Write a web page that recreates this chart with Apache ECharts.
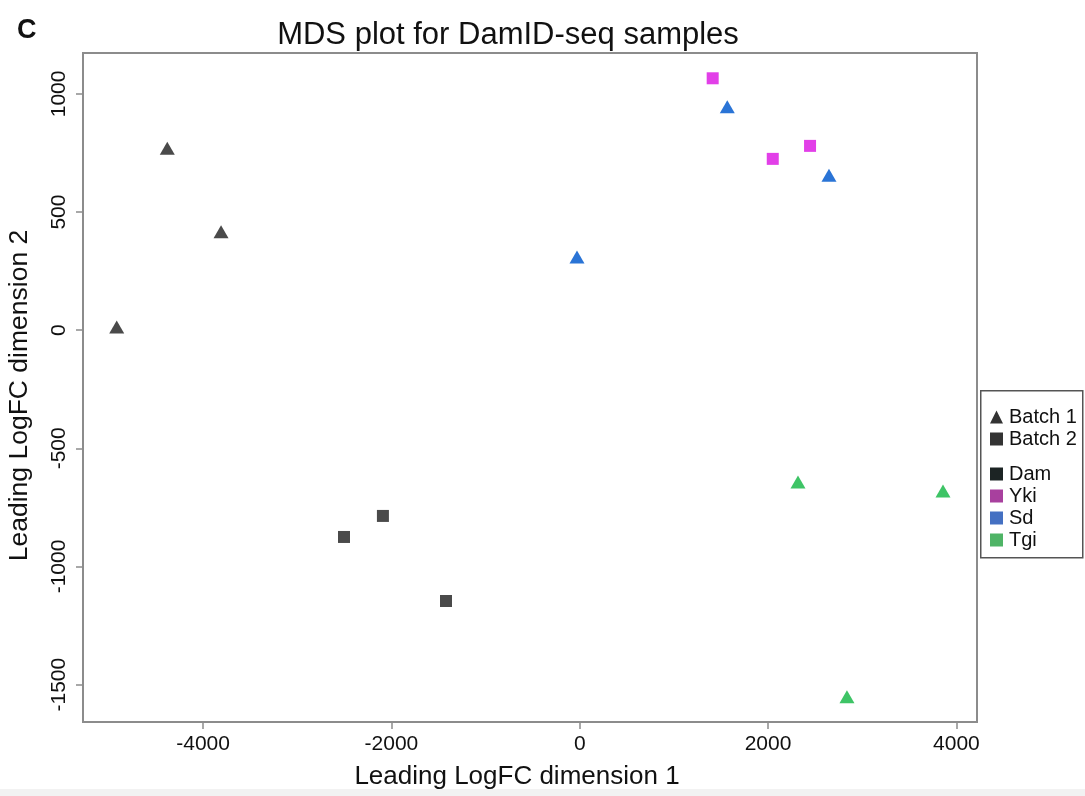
<!DOCTYPE html>
<html>
<head>
<meta charset="utf-8">
<script src="https://cdn.jsdelivr.net/npm/echarts@6/dist/echarts.min.js"></script>
<style>
html,body{margin:0;padding:0;background:#fff;}
#main{width:1085px;height:796px;}
</style>
</head>
<body>
<div id="main"></div>
<script>
// points: [dim1, dim2, batch]
var damPts = [[-4380,770,1],[-3809,417,1],[-4917,13,1],[-2503,-875,2],[-2090,-786,2],[-1420,-1146,2]];
var ykiPts = [[1412,1066,2],[2050,725,2],[2446,780,2]];
var sdPts = [[1567,946,1],[2647,656,1],[-29,310,1]];
var tgiPts = [[2318,-642,1],[3858,-680,1],[2838,-1551,1]];
var xTicks = [-4000,-2000,0,2000,4000];
var yTicks = [-1500,-1000,-500,0,500,1000];
var batchNames = ['Batch 1','Batch 2'];
var groupNames = ['Dam','Yki','Sd','Tgi'];
var pointColors = ['#4a4a4a','#e23fe8','#2a74d6','#3ec466'];
var legendColors = ['#1c2424','#a8409e','#4470c2','#4fb466'];

var font = 'Liberation Sans, Arial, sans-serif';
var myChart = echarts.init(document.getElementById('main'));

function mk(name, pts, color){
	return {
		name: name,
		type: 'scatter',
		data: pts,
		symbol: function(v){ return v[2]==1 ? 'triangle' : 'rect'; },
		symbolSize: function(v){ return v[2]==1 ? [15,13] : 12; },
		itemStyle: { color: color, opacity: 1 },
		silent: true
	};
}
function plain(v){ return String(v); }

var option = {
	backgroundColor: '#fff',
	animation: false,
	title: [{
		text: 'MDS plot for DamID-seq samples',
		left: 503, top: 15, textAlign: 'center',
		textStyle: { fontFamily: font, fontSize: 31, fontWeight: 'normal', color: '#111' }
	},{
		text: 'C', left: 12, top: 12,
		textStyle: { fontFamily: font, fontSize: 27, fontWeight: 'bold', color: '#111' }
	}],
	grid: {
		left: 83, top: 53, right: 108, bottom: 74,
		outerBoundsMode: 'none',
		show: true, borderColor: '#8c8c8c', borderWidth: 2
	},
	legend: [{
		data: batchNames.map(function(n,i){
			return { name: n, icon: i==0 ? 'triangle' : 'rect', itemStyle: { color: '#000' } };
		}),
		orient: 'vertical', left: 985, top: 402, itemGap: 2,
		itemWidth: 13, itemHeight: 13, selectedMode: false,
		textStyle: { fontFamily: font, fontSize: 20, color: '#111', padding: [0,0,0,1] }
	},{
		data: groupNames.map(function(n,i){
			return { name: n, icon: 'rect', itemStyle: { color: legendColors[i] } };
		}),
		orient: 'vertical', left: 985, top: 459, itemGap: 2,
		itemWidth: 13, itemHeight: 13, selectedMode: false,
		textStyle: { fontFamily: font, fontSize: 20, color: '#111', padding: [0,0,0,1] }
	}],
	graphic: [{
		type: 'rect', left: 980, top: 390, z: -1,
		shape: { width: 102, height: 167 },
		style: { fill: '#fff', stroke: '#555', lineWidth: 1.5 }
	},{
		type: 'rect', left: 0, top: 789, z: -1,
		shape: { width: 1085, height: 7 },
		style: { fill: '#f2f2f2' }
	}],
	xAxis: {
		type: 'value', min: -5275, max: 4219,
		name: 'Leading LogFC dimension 1', nameLocation: 'middle', nameGap: 42,
		nameTextStyle: { fontFamily: font, fontSize: 26, color: '#111', padding: [0,26,0,0] },
		splitLine: { show: false },
		axisLine: { show: true, onZero: false, lineStyle: { color: '#8c8c8c', width: 2 } },
		axisTick: { show: true, length: 7, customValues: xTicks, lineStyle: { color: '#8c8c8c', width: 1.5 } },
		axisLabel: { customValues: xTicks, formatter: plain, margin: 12, fontFamily: font, fontSize: 21, color: '#111' }
	},
	yAxis: {
		type: 'value', min: -1658, max: 1173,
		name: 'Leading LogFC dimension 2', nameLocation: 'middle', nameGap: 50,
		nameTextStyle: { fontFamily: font, fontSize: 26.5, color: '#111', padding: [0,16,0,0] },
		splitLine: { show: false },
		axisLine: { show: true, onZero: false, lineStyle: { color: '#8c8c8c', width: 2 } },
		axisTick: { show: true, length: 7, customValues: yTicks, lineStyle: { color: '#8c8c8c', width: 1.5 } },
		axisLabel: { customValues: yTicks, formatter: plain, rotate: 90, margin: 13, fontFamily: font, fontSize: 21, color: '#111' }
	},
	series: [
		mk('Dam', damPts, pointColors[0]),
		mk('Yki', ykiPts, pointColors[1]),
		mk('Sd', sdPts, pointColors[2]),
		mk('Tgi', tgiPts, pointColors[3]),
		{ name: 'Batch 1', type: 'scatter', data: [] },
		{ name: 'Batch 2', type: 'scatter', data: [] }
	]
};
myChart.setOption(option);
</script>
</body>
</html>
